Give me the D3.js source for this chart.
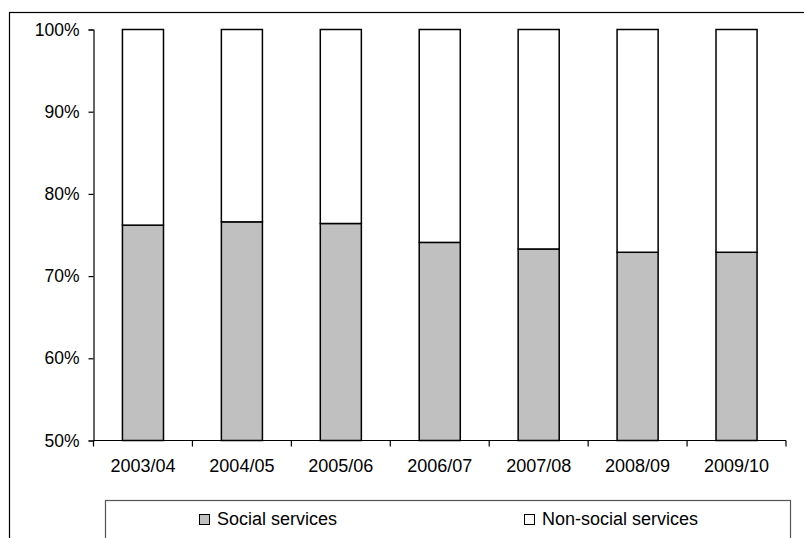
<!DOCTYPE html>
<html>
<head>
<meta charset="utf-8">
<script src="https://cdn.jsdelivr.net/npm/d3@7/dist/d3.min.js"></script>
<style>
  html, body { margin: 0; padding: 0; background: #fff; }
  svg { display: block; }
  text { font-family: "Liberation Sans", Arial, sans-serif; fill: #000; }
</style>
</head>
<body>
<svg id="chart" width="804" height="538"></svg>
<script>
// Share of spending by year (percent)
const years = ["2003/04", "2004/05", "2005/06", "2006/07", "2007/08", "2008/09", "2009/10"];
const socialShare = [76.2, 76.6, 76.4, 74.1, 73.3, 72.9, 72.9];
const nonSocialShare = socialShare.map(v => 100 - v);
const yTicks = [50, 60, 70, 80, 90, 100];
const seriesNames = ["Social services", "Non-social services"];
const seriesColors = ["#c0c0c0", "#ffffff"];

const svg = d3.select("#chart");

// Outer chart frame (runs past the right and bottom edges)
svg.append("rect")
  .attr("x", 9.5).attr("y", 12.5)
  .attr("width", 900).attr("height", 700)
  .attr("fill", "none").attr("stroke", "#000").attr("stroke-width", 1.2);

const plot = { left: 93.5, right: 786, top: 29.5, bottom: 440.5 };

const x = d3.scaleBand().domain(years).range([plot.left, plot.right]).paddingInner(0.585).paddingOuter(0.2925);
const xTicks = d3.scaleBand().domain(years).range([plot.left, plot.right]);
const y = d3.scaleLinear().domain([50, 100]).range([plot.bottom, plot.top]);

// Stacked bars: social services at the bottom, the remainder above
const stackData = years.map((yr, i) => ({ year: yr, social: socialShare[i], nonsocial: nonSocialShare[i] }));
const stacked = d3.stack().keys(["social", "nonsocial"])(stackData);

stacked.forEach((layer, li) => {
  svg.append("g").selectAll("rect")
    .data(layer)
    .join("rect")
    .attr("x", d => x(d.data.year))
    .attr("width", x.bandwidth())
    .attr("y", d => y(Math.min(d[1], 100)))
    .attr("height", d => y(Math.max(d[0], 50)) - y(Math.min(d[1], 100)))
    .attr("fill", seriesColors[li])
    .attr("stroke", "#000")
    .attr("stroke-width", 1.5);
});

// Y axis
const yAxis = d3.axisLeft(y).tickValues(yTicks).tickFormat(d => d + "%").tickSize(5).tickPadding(9);
const gy = svg.append("g").attr("transform", `translate(${plot.left},0)`).call(yAxis);
gy.select(".domain").attr("stroke", "#000").attr("stroke-width", 1.2);
gy.selectAll(".tick line").attr("stroke", "#000").attr("stroke-width", 1.2);
gy.selectAll(".tick text").attr("font-size", 17.5).attr("font-family", "Liberation Sans, Arial, sans-serif");

// X axis with ticks between categories
const gx = svg.append("g").attr("transform", `translate(0,${plot.bottom})`);
gx.append("line")
  .attr("x1", plot.left).attr("x2", plot.right)
  .attr("stroke", "#000").attr("stroke-width", 1.2);
const tickPos = years.map(yr => xTicks(yr)).concat([plot.right]);
gx.selectAll("line.tk").data(tickPos).join("line").attr("class", "tk")
  .attr("x1", d => d).attr("x2", d => d).attr("y1", 0).attr("y2", 6)
  .attr("stroke", "#000").attr("stroke-width", 1.2);
gx.selectAll("text").data(years).join("text")
  .attr("x", d => xTicks(d) + xTicks.bandwidth() / 2)
  .attr("y", 31)
  .attr("text-anchor", "middle")
  .attr("font-size", 18)
  .text(d => d);

// Legend box (runs past the bottom edge)
const legend = svg.append("g");
legend.append("rect")
  .attr("x", 105.5).attr("y", 500.5)
  .attr("width", 685).attr("height", 80)
  .attr("fill", "#fff").attr("stroke", "#555").attr("stroke-width", 1.2);

const legendX = [199.5, 524.5];
const items = legend.selectAll("g.item").data(seriesNames).join("g").attr("class", "item")
  .attr("transform", (d, i) => `translate(${legendX[i]},514.5)`);
items.append("rect")
  .attr("width", 10).attr("height", 10)
  .attr("fill", (d, i) => seriesColors[i])
  .attr("stroke", "#000").attr("stroke-width", 1);
items.append("text")
  .attr("x", 17.5).attr("y", 10)
  .attr("font-size", 18)
  .text(d => d);
</script>
</body>
</html>
